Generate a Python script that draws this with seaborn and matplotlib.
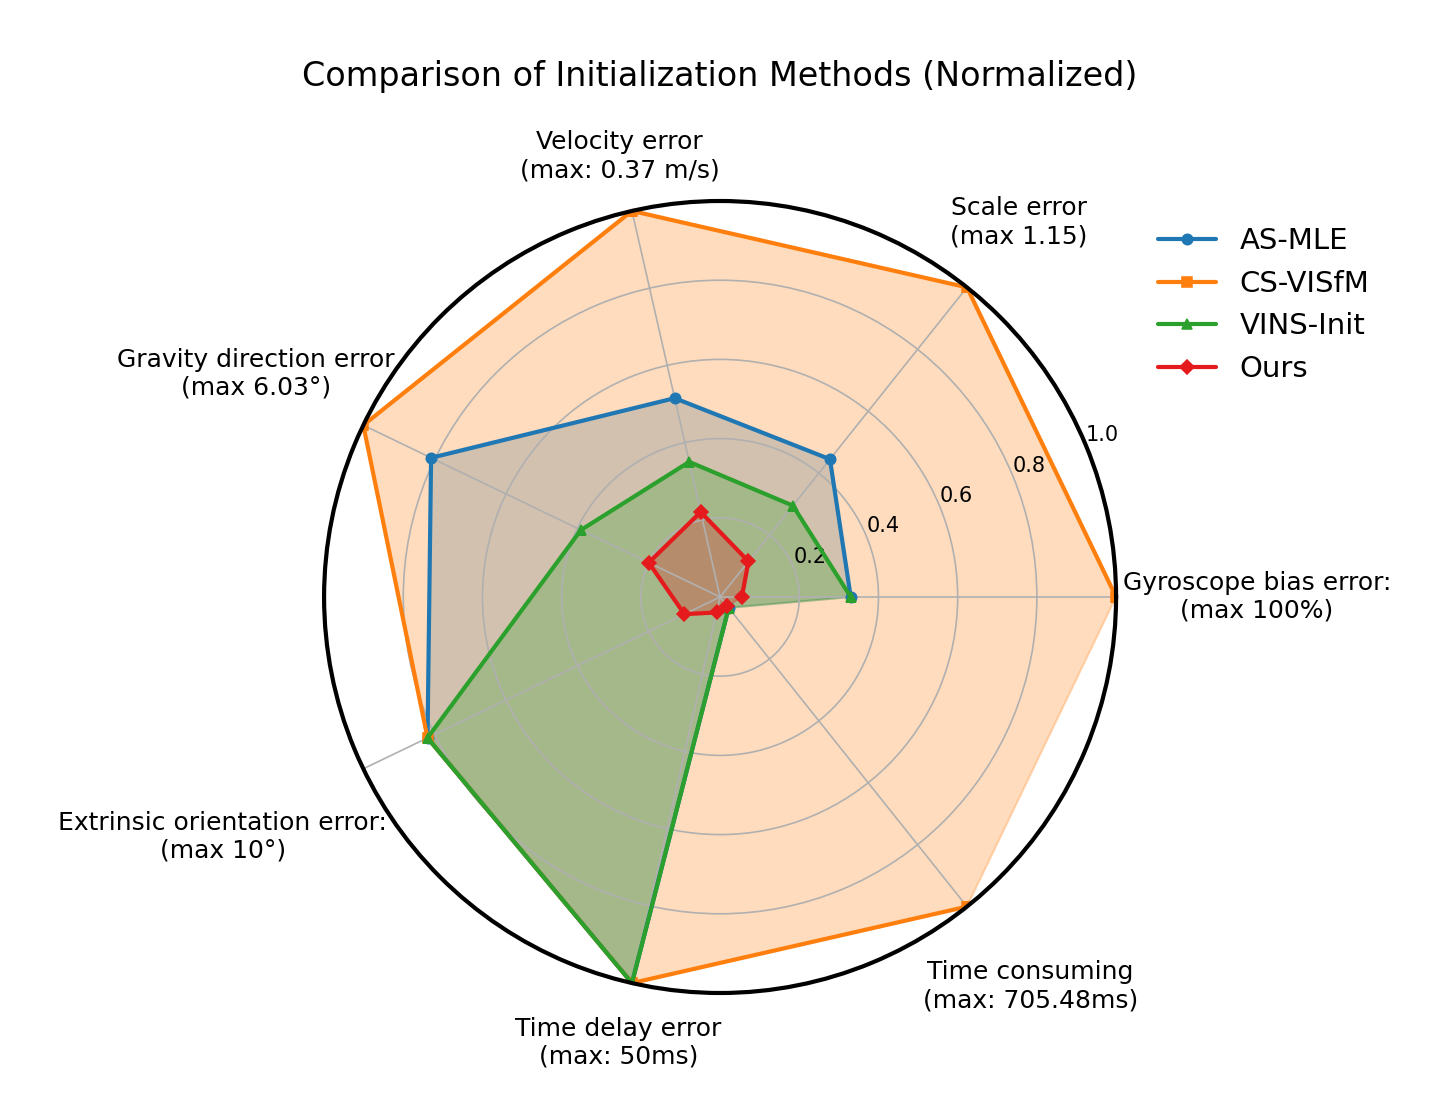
import numpy as np
import pandas as pd
import seaborn as sns
import matplotlib
matplotlib.use("Agg")
import matplotlib.pyplot as plt

# axis labels (counter-clockwise from the right)
categories = [
    "Gyroscope bias error:\n(max 100%)",
    "Scale error\n(max 1.15)",
    "Velocity error\n(max: 0.37 m/s)",
    "Gravity direction error\n(max 6.03°)",
    "Extrinsic orientation error:\n(max 10°)",
    "Time delay error\n(max: 50ms)",
    "Time consuming\n(max: 705.48ms)",
]

# normalized values
as_mle = [0.33, 0.445, 0.515, 0.81, 0.82, 1.0, 0.035]
cs_visfm = [1.0, 1.0, 1.0, 1.0, 0.82, 1.0, 1.0]
vins_init = [0.33, 0.295, 0.35, 0.39, 0.82, 1.0, 0.035]
ours = [0.055, 0.115, 0.22, 0.20, 0.10, 0.04, 0.03]

methods = ["AS-MLE", "CS-VISfM", "VINS-Init", "Ours"]
series = [as_mle, cs_visfm, vins_init, ours]
colors = ["#1f77b4", "#ff7f0e", "#2ca02c", "#e41a1c"]
markers = ["o", "s", "^", "D"]

# how far out each category label sits (radius of its centre)
label_radius = [1.356, 1.21, 1.142, 1.30, 1.394, 1.154, 1.257]

sns.set_theme(style="white")
plt.rcParams["font.family"] = ["DejaVu Sans"]
plt.rcParams["text.color"] = "black"
plt.rcParams["xtick.color"] = "black"
plt.rcParams["ytick.color"] = "black"
plt.rcParams["axes.axisbelow"] = "line"

n = len(categories)
angles = np.linspace(0, 2 * np.pi, n, endpoint=False).tolist()
angles_closed = angles + angles[:1]

fig = plt.figure(figsize=(1439 / 150, 1093 / 150), dpi=150)
ax = fig.add_axes([0.2252, 0.0915, 0.5504, 0.7246], projection="polar")

for name, vals, col, mk in zip(methods, series, colors, markers):
    vals_closed = vals + vals[:1]
    df = pd.DataFrame({"angle": angles_closed, "value": vals_closed})
    sns.lineplot(data=df, x="angle", y="value", ax=ax, color=col, marker=mk,
                 markersize=5, markeredgecolor=col,
                 linewidth=2, sort=False, label=name)
    ax.fill(angles_closed, vals_closed, color=col, alpha=0.27)

ax.set_ylim(0, 1.0)
ax.set_xticks(angles)
ax.set_xticklabels([])
for ang, lab, rr in zip(angles, categories, label_radius):
    ax.text(ang, rr, lab, fontsize=12, ha="center", va="center",
            multialignment="center", color="black")

ax.set_yticks([0.2, 0.4, 0.6, 0.8, 1.0])
ax.set_yticklabels(["0.2", "0.4", "0.6", "0.8", "1.0"], fontsize=10)
ax.set_rlabel_position(22.5)
ax.set_xlabel("")
ax.set_ylabel("")
ax.grid(True, color="#b0b0b0", linewidth=0.8)
ax.spines["polar"].set_linewidth(2)
ax.spines["polar"].set_color("black")

ax.set_title("Comparison of Initialization Methods (Normalized)", fontsize=16, pad=55)
ax.legend(loc="upper left", bbox_to_anchor=(1.02, 1.0), fontsize=14, frameon=False)

fig.savefig("out.png", dpi=150)
